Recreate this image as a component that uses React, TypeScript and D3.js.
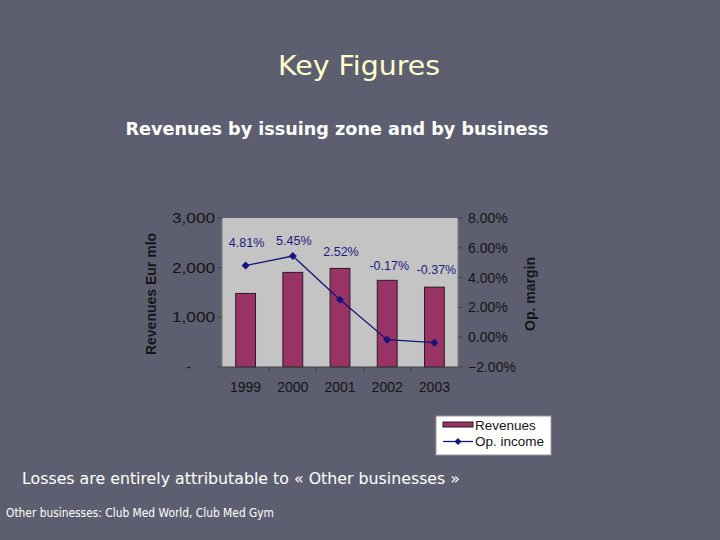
import React from "react";
import * as d3 from "d3";

const years = ["1999", "2000", "2001", "2002", "2003"];
const revenues = [1481, 1905, 1985, 1745, 1608];
const opMargin = [4.81, 5.45, 2.52, -0.17, -0.37];
const marginLabels = ["4.81%", "5.45%", "2.52%", "-0.17%", "-0.37%"];
// label anchor levels expressed on the right (percent) axis
const labelLevels = [6.33, 6.5, 5.72, 4.83, 4.54];
const leftTicks = [0, 1000, 2000, 3000];
const rightTicks = [-2, 0, 2, 4, 6, 8];

const W = 720;
const H = 540;
const plot = { left: 222, right: 458, top: 218, bottom: 367 };

export default function App() {
  const x = d3
    .scaleBand<string>()
    .domain(years)
    .range([plot.left, plot.right])
    .paddingInner(0.58)
    .paddingOuter(0.29);
  const yL = d3.scaleLinear().domain([0, 3000]).range([plot.bottom, plot.top]);
  const yR = d3.scaleLinear().domain([-2, 8]).range([plot.bottom, plot.top]);
  const fmtL = (v: number) => (v === 0 ? "-" : d3.format(",")(v));
  const fmtR = (v: number) => d3.format(".2f")(v) + "%";
  const cx = (i: number) => (x(years[i]) as number) + x.bandwidth() / 2;
  const line = d3
    .line<number>()
    .x((_, i) => cx(i))
    .y((d) => yR(d));
  const step = x.step();
  const diamond = (px: number, py: number, r: number) =>
    `M${px},${py - r}L${px + r},${py}L${px},${py + r}L${px - r},${py}Z`;
  const chartFont = "'Liberation Sans', Arial, sans-serif";
  const slideFont = "'DejaVu Sans', Verdana, sans-serif";
  const ink = "#151515";

  return (
    <div style={{ position: "fixed", left: 0, top: 0, width: W, height: H }}>
      <svg width={W} height={H} viewBox={`0 0 ${W} ${H}`}>
        <rect x={0} y={0} width={W} height={H} fill="#5d5f70" />
        {/* titles */}
        <text x={359} y={75} textAnchor="middle" fontFamily={slideFont} fontSize={27}
          fill="#ffffcc" textLength={162} lengthAdjust="spacingAndGlyphs">Key Figures</text>
        <text x={337} y={135} textAnchor="middle" fontFamily={slideFont} fontWeight="bold"
          fontSize={18.5} fill="#ffffff" textLength={423} lengthAdjust="spacingAndGlyphs">
          Revenues by issuing zone and by business
        </text>

        {/* plot area */}
        <rect x={plot.left} y={plot.top} width={plot.right - plot.left}
          height={plot.bottom - plot.top} fill="#c4c4c4" />
        {years.map((yr, i) => (
          <rect key={yr} x={x(yr)} y={yL(revenues[i])} width={x.bandwidth()}
            height={plot.bottom - yL(revenues[i])} fill="#993366" stroke="#2b1a22" strokeWidth={1} />
        ))}
        {/* axes */}
        <line x1={plot.left} x2={plot.left} y1={plot.top} y2={plot.bottom} stroke="#7a7a7a" />
        <line x1={plot.right} x2={plot.right} y1={plot.top} y2={plot.bottom} stroke="#7a7a7a" />
        <line x1={plot.left} x2={plot.right} y1={plot.bottom} y2={plot.bottom} stroke="#454545" />
        {leftTicks.map((t) => (
          <g key={"l" + t}>
            <line x1={plot.left - 5} x2={plot.left} y1={yL(t)} y2={yL(t)} stroke="#454545" />
            <text x={t === 0 ? 191 : 215} y={yL(t) + 5} textAnchor="end" fontFamily={chartFont}
              fontSize={14} fill={ink} textLength={t === 0 ? undefined : 43}
              lengthAdjust="spacingAndGlyphs">{fmtL(t)}</text>
          </g>
        ))}
        {rightTicks.map((t) => (
          <g key={"r" + t}>
            <line x1={plot.right} x2={plot.right + 5} y1={yR(t)} y2={yR(t)} stroke="#454545" />
            <text x={468} y={yR(t) + 5} textAnchor="start" fontFamily={chartFont}
              fontSize={14} fill={ink}>{fmtR(t)}</text>
          </g>
        ))}
        {years.slice(1).map((yr, i) => (
          <line key={"bt" + yr} x1={plot.left + step * (i + 1)} x2={plot.left + step * (i + 1)}
            y1={plot.bottom} y2={plot.bottom + 5} stroke="#454545" />
        ))}
        {years.map((yr, i) => (
          <text key={"xl" + yr} x={cx(i)} y={391.5}
            textAnchor="middle" fontFamily={chartFont} fontSize={14} fill={ink}>{yr}</text>
        ))}
        {/* axis titles */}
        <text transform="translate(156,294) rotate(-90)" textAnchor="middle" fontFamily={chartFont}
          fontWeight="bold" fontSize={14} fill={ink}>Revenues Eur mlo</text>
        <text transform="translate(535,294) rotate(-90)" textAnchor="middle" fontFamily={chartFont}
          fontWeight="bold" fontSize={14} fill={ink}>Op. margin</text>

        {/* line */}
        <path d={line(opMargin) || ""} fill="none" stroke="#14147a" strokeWidth={1.3} />
        {opMargin.map((v, i) => (
          <path key={"m" + i} d={diamond(cx(i), yR(v), 4)} fill="#14147a" />
        ))}
        {marginLabels.map((lab, i) => (
          <text key={"dl" + i} x={cx(i) + (i >= 3 ? 2 : 1)}
            y={yR(labelLevels[i]) + 4.5} textAnchor="middle" fontFamily={chartFont}
            fontSize={12.5} fill="#1a1a80">{lab}</text>
        ))}

        {/* legend */}
        <rect x={436} y={416} width={115} height={39} fill="#ffffff" stroke="#9a9a9a" />
        <rect x={443} y={422} width={30} height={5} fill="#993366" stroke="#2b1a22" />
        <text x={475} y={429.5} fontFamily={chartFont} fontSize={13.5} fill={ink}>Revenues</text>
        <line x1={443} x2={473} y1={441.5} y2={441.5} stroke="#14147a" strokeWidth={1.3} />
        <path d={diamond(458, 441.5, 3.5)} fill="#14147a" />
        <text x={475} y={446} fontFamily={chartFont} fontSize={13.5} fill={ink}>Op. income</text>

        {/* notes */}
        <text x={22} y={484} fontFamily={slideFont} fontSize={16.5} fill="#ffffff"
          textLength={438} lengthAdjust="spacingAndGlyphs">
          Losses are entirely attributable to « Other businesses »
        </text>
        <text x={6} y={517} fontFamily={slideFont} fontSize={11.5} fill="#ffffff"
          textLength={268} lengthAdjust="spacingAndGlyphs">
          Other businesses: Club Med World, Club Med Gym
        </text>
      </svg>
    </div>
  );
}
